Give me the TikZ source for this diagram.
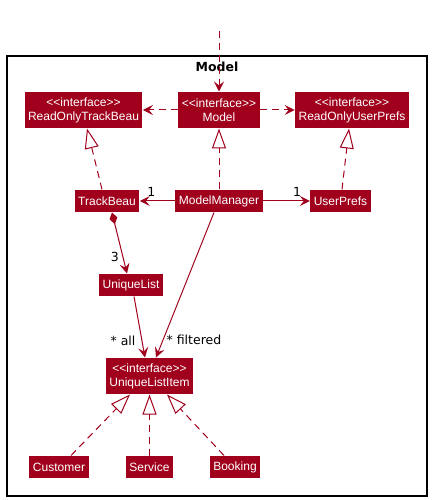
\documentclass[tikz,border=0pt]{standalone}
\usepackage{fontspec}
\newfontfamily\clsfont{Liberation Sans}
\newfontfamily\lblfont{DejaVu Sans}
\usepackage{xcolor}
\usepackage{tikz}
\usetikzlibrary{arrows.meta,positioning}
\definecolor{umlred}{HTML}{A0001C}

\begin{document}
\begin{tikzpicture}[node distance=120pt,line width=1pt]
			\tikzstyle{cls}=[fill=umlred,text=white,font=\clsfont\fontsize{12}{14}\selectfont,inner xsep=3.5pt,inner ysep=0pt,minimum height=22pt]
			\tikzstyle{iface}=[cls,align=center,minimum height=36pt]
			\tikzstyle{dep}=[draw=umlred,dash pattern=on 7pt off 5pt,-{Stealth[length=10pt,width=10pt,inset=4pt]}]
			\tikzstyle{real}=[draw=umlred,dash pattern=on 7pt off 5pt,-{Triangle[open,length=20pt,width=14pt,fill=white]}]
			\tikzstyle{assoc}=[draw=umlred,-{Stealth[length=10pt,width=10pt,inset=4pt]}]
			\tikzstyle{comp}=[draw=umlred,{Diamond[length=12pt,width=8pt]}-{Stealth[length=10pt,width=10pt,inset=4pt]}]
			\tikzstyle{mult}=[text=black,font=\lblfont\fontsize{12.5}{14}\selectfont,inner sep=0pt]
			
			\useasboundingbox (-219pt,110pt) rectangle (212pt,-390pt);
			
			% package frame
			\draw[line width=1.5pt] (-212pt,54pt) rectangle (208pt,-386pt);
			\node[font=\lblfont\bfseries\fontsize{12.5}{14}\selectfont] (title) at (-2pt,43pt) {Model};
			\coordinate (top) at (0pt,79pt);
			
			\node[iface]    (M)                                  {<<interface>>\\Model};
			
			\node[iface]    (RT)[left of = M, xshift=-15.5pt]     {<<interface>>\\ReadOnlyTrackBeau};
			
			\node[iface]    (RU)[right of = M, xshift=13pt]       {<<interface>>\\ReadOnlyUserPrefs};
			
			\node[cls]      (MM)[below of = M, yshift=29pt]       {ModelManager};
			
			\node[cls]      (TB)[left of = MM, xshift=8pt]        {TrackBeau};
			
			\node[cls]      (UP)[right of = MM, xshift=1.5pt]     {UserPrefs};
			
			\node[cls]      (UL)[below of = TB, xshift=24pt, yshift=36pt]   {UniqueList};
			
			\node[iface]    (ULI)[below of = UL, xshift=18.5pt, yshift=29pt] {<<interface>>\\UniqueListItem};
			
			\node[cls]      (S)[below of = ULI, yshift=29pt]      {Service};
			
			\node[cls]      (C)[left of = S, xshift=29.5pt]       {Customer};
			
			\node[cls]      (B)[right of = S, xshift=-34.5pt]     {Booking};
			
			\path
			
			(top) edge[dep] (M)
			
			(M) edge[dep] (RT)
			
			(M) edge[dep] (RU)
			
			([xshift=-5pt]TB.north) edge[real] ([xshift=3.5pt]RT.south)
			
			(MM) edge[real] (M)
			
			([xshift=1.5pt]UP.north) edge[real] ([xshift=-3pt]RU.south)
			
			(MM) edge[assoc] node[mult, pos=0.67, yshift=9pt] {1} (TB)
			
			(MM) edge[assoc] node[mult, pos=0.73, yshift=9pt] {1} (UP)
			
			([xshift=5pt]TB.south) edge[comp] node[mult, pos=0.73, xshift=-8pt] {3} ([xshift=-4pt]UL.north)
			
			([xshift=3pt]UL.south) edge[assoc] node[mult, pos=0.73, xshift=-19pt] {* all} ([xshift=-4.5pt]ULI.north)
			
			([xshift=-5pt]MM.south) edge[assoc] node[mult, pos=0.88, xshift=31pt] {* filtered} ([xshift=6.5pt]ULI.north)
			
			([xshift=12pt]C.north) edge[real] ([xshift=-19.5pt]ULI.south)
			
			(S) edge[real] (ULI)
			
			([xshift=-11pt]B.north) edge[real] ([xshift=17.5pt]ULI.south);
			\end{tikzpicture}
\end{document}
